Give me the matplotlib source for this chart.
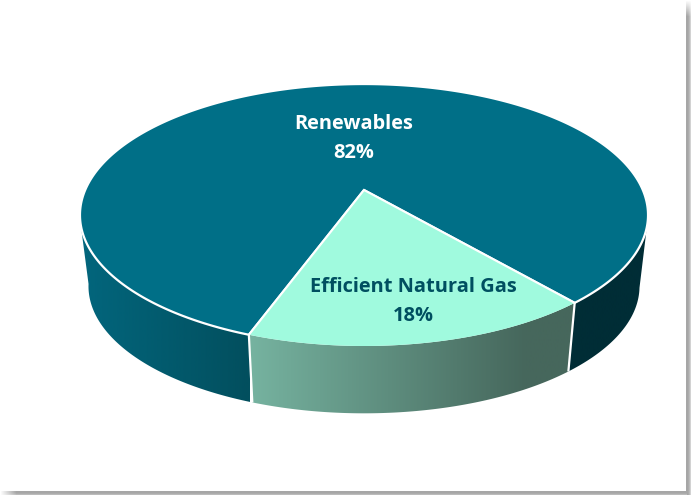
# -*- coding: utf-8 -*-
import numpy as np
import matplotlib
matplotlib.use('Agg')
from matplotlib import pyplot as plt
from matplotlib.colors import LinearSegmentedColormap
from matplotlib.patches import Polygon

categories = ['Efficient Natural Gas', 'Renewables']
shares = [18, 82]
pct_labels = ['18%', '82%']

# view of the tilted pie, in pixels of the picture
cx, cy = 364, 190
rx, ry = 278.8, 126.2
persp = 0.191
shrink, depth = 0.97, 72
start_angle = -47.4
warp = -2.65
warp_mid = -79.8


def rim(deg, floor=False):
    t = np.radians(deg + warp * np.sin(2 * np.radians(np.asarray(deg, float) - warp_mid)))
    w = 1 + persp * np.sin(t)
    x = rx * np.cos(t) / w
    y = -ry * np.sin(t) / w
    if floor:
        return np.column_stack([cx + shrink * x, cy + shrink * y + depth])
    return np.column_stack([cx + x, cy + y])


def wall(ax, a0, a1, a0_floor, a1_floor, colors, x0, x1):
    top = rim(np.linspace(a0, a1, 200))
    low = rim(np.linspace(a1_floor, a0_floor, 200), floor=True)
    poly = Polygon(np.vstack([top, low]), closed=True, fc='none', ec='none')
    ax.add_patch(poly)
    cmap = LinearSegmentedColormap.from_list('side', colors)
    grad = np.linspace(0, 1, 256).reshape(1, -1)
    im = ax.imshow(grad, cmap=cmap, extent=(x0, x1, 495, 0), aspect='auto', zorder=1)
    im.set_clip_path(poly)


fig = plt.figure(figsize=(6.91, 4.95), dpi=100)
ax = fig.add_axes([0, 0, 1, 1])

gas_end = start_angle - 360 * shares[0] / sum(shares)
renew_end = gas_end - 360 * shares[1] / sum(shares)

# side walls, front part of the pie only
wall(ax, -166, gas_end, -170, gas_end, ['#02667d', '#024f5e'], 80, 250)
wall(ax, gas_end, start_angle, gas_end, start_angle,
     [(0, '#76b3a0'), (0.85, '#46675c'), (1, '#46675c')], 250, 575)
wall(ax, start_angle, -14, start_angle, -10, ['#002d36', '#002d36'], 565, 650)

# top face
apex = np.array([[cx, cy]])
renew_pts = np.vstack([apex, rim(np.linspace(gas_end, renew_end, 500))])
gas_pts = np.vstack([apex, rim(np.linspace(start_angle, gas_end, 200))])
ax.add_patch(Polygon(renew_pts, closed=True, fc='#006f87', ec='white', lw=1.6, zorder=2))
ax.add_patch(Polygon(gas_pts, closed=True, fc='#a0fade', ec='none', zorder=3))

# white seams
for a in [start_angle, gas_end]:
    p = rim(a)[0]
    q = rim(a, floor=True)[0]
    ax.plot([cx, p[0]], [cy, p[1]], color='white', lw=1.5, zorder=4, solid_capstyle='butt')
    ax.plot([p[0], q[0]], [p[1], q[1]], color='white', lw=1.6, zorder=4, solid_capstyle='butt')

# labels
font = ['Open Sans', 'DejaVu Sans']
ax.text(354, 124, categories[1], color='white', fontsize=14.4, fontweight='bold', family=font, ha='center', va='center', zorder=5)
ax.text(354, 153, pct_labels[1], color='white', fontsize=14.4, fontweight='bold', family=font, ha='center', va='center', zorder=5)
ax.text(413, 287, categories[0], color='#004f60', fontsize=14.4, fontweight='bold', family=font, ha='center', va='center', zorder=5)
ax.text(413, 316, pct_labels[0], color='#004f60', fontsize=14.4, fontweight='bold', family=font, ha='center', va='center', zorder=5)

# screenshot shadow along the right and bottom edge
shadow = LinearSegmentedColormap.from_list('shadow', ['white', '#a6a6a6'])
across = np.array([1, 1, 0.92, 0.75, 0.5])
along_r = np.clip(np.arange(495) / 16, 0, 1)
along_b = np.clip(np.arange(691) / 16, 0, 1)
ax.imshow(np.outer(along_r, across), cmap=shadow, vmin=0, vmax=1, extent=(686, 691, 495, 0), aspect='auto', zorder=6, interpolation='nearest')
ax.imshow(np.outer(across[:4], along_b[:687]), cmap=shadow, vmin=0, vmax=1, extent=(0, 687, 495, 491), aspect='auto', zorder=6, interpolation='nearest')

ax.set_xlim(0, 691)
ax.set_ylim(495, 0)
ax.axis('off')
fig.savefig('out.png', dpi=100, facecolor='white')
